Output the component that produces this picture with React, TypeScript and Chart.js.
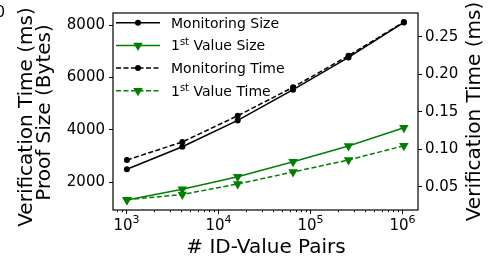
import React, { useEffect, useRef } from 'react';
import { Chart, registerables } from 'chart.js';

Chart.register(...registerables);

// ---- data ----
const pairCounts = [1024, 4096, 16384, 65536, 262144, 1048576];
const monitoringSize = [2485, 3347, 4355, 5530, 6760, 8100];
const firstValueSize = [1313, 1721, 2202, 2775, 3374, 4073];
const monitoringTime = [0.086, 0.11, 0.145, 0.183, 0.225, 0.27];
const firstValueTime = [0.033, 0.04, 0.054, 0.07, 0.086, 0.105];

const seriesLabels = ['Monitoring Size', '1st Value Size', 'Monitoring Time', '1st Value Time'];
const sizeTicks = [2000, 4000, 6000, 8000];
const timeTicks = [0.05, 0.1, 0.15, 0.2, 0.25];
const xMajorTicks = [1e3, 1e4, 1e5, 1e6];
const xTickBase = '10';
const xTickExponents = ['3', '4', '5', '6'];

const xTitle = '# ID-Value Pairs';
const leftTitle = 'Proof Size (Bytes)';
const rightTitle = 'Verification Time (ms)';

const FONT = '"DejaVu Sans", sans-serif';
const BLACK = '#000000';
const GREEN = '#008000';

type Style = { color: string; dash: number[]; marker: 'circle' | 'tri' };
const styles: Style[] = [
  { color: BLACK, dash: [], marker: 'circle' },
  { color: GREEN, dash: [], marker: 'tri' },
  { color: BLACK, dash: [5, 2.5], marker: 'circle' },
  { color: GREEN, dash: [5, 2.5], marker: 'tri' },
];

function drawMarker(ctx: CanvasRenderingContext2D, kind: string, x: number, y: number, color: string) {
  ctx.save();
  ctx.setLineDash([]);
  ctx.fillStyle = color;
  ctx.beginPath();
  if (kind === 'circle') {
    ctx.arc(x, y, 3, 0, Math.PI * 2);
  } else {
    const r = 5.5;
    ctx.moveTo(x, y + r);
    ctx.lineTo(x - r * Math.sin(Math.PI / 3), y - r / 2);
    ctx.lineTo(x + r * Math.sin(Math.PI / 3), y - r / 2);
    ctx.closePath();
  }
  ctx.fill();
  ctx.restore();
}

const overlayPlugin = {
  id: 'overlay',
  afterDraw(chart: any) {
    const ctx: CanvasRenderingContext2D = chart.ctx;
    const { left, right, top, bottom } = chart.chartArea;
    ctx.save();

    // frame
    ctx.strokeStyle = BLACK;
    ctx.lineWidth = 1.2;
    ctx.setLineDash([]);
    ctx.strokeRect(left, top, right - left, bottom - top);

    // x ticks (major / minor) and major labels with superscript exponents
    const xs = chart.scales.x;
    ctx.lineWidth = 1;
    xs.ticks.forEach((t: any) => {
      const px = Math.round(xs.getPixelForValue(t.value)) + 0.5;
      const mi = xMajorTicks.indexOf(t.value);
      ctx.beginPath();
      ctx.moveTo(px, bottom);
      ctx.lineTo(px, bottom + (mi >= 0 ? 4 : 2.2));
      ctx.stroke();
      if (mi >= 0) {
        ctx.fillStyle = BLACK;
        ctx.textAlign = 'left';
        ctx.textBaseline = 'alphabetic';
        ctx.font = `15px ${FONT}`;
        const wb = ctx.measureText(xTickBase).width;
        ctx.font = `11px ${FONT}`;
        const we = ctx.measureText(xTickExponents[mi]).width;
        const x0 = px - (wb + we) / 2;
        ctx.font = `15px ${FONT}`;
        ctx.fillText(xTickBase, x0, bottom + 20);
        ctx.font = `11px ${FONT}`;
        ctx.fillText(xTickExponents[mi], x0 + wb, bottom + 12.5);
      }
    });

    // legend
    const lx0 = left + 3;
    const lx1 = left + 47;
    const tx = left + 58;
    seriesLabels.forEach((label, i) => {
      const st = styles[i];
      const y = top + 9.7 + i * 22.7;
      ctx.strokeStyle = st.color;
      ctx.lineWidth = 1.5;
      ctx.setLineDash(st.dash);
      ctx.beginPath();
      ctx.moveTo(lx0, y);
      ctx.lineTo(lx1, y);
      ctx.stroke();
      ctx.setLineDash([]);
      drawMarker(ctx, st.marker, (lx0 + lx1) / 2, y, st.color);

      ctx.fillStyle = BLACK;
      ctx.textAlign = 'left';
      ctx.textBaseline = 'alphabetic';
      const base = y + 5;
      if (label.startsWith('1st')) {
        ctx.font = `14px ${FONT}`;
        ctx.fillText('1', tx, base);
        let x = tx + ctx.measureText('1').width;
        ctx.font = `10px ${FONT}`;
        ctx.fillText('st', x, base - 5);
        x += ctx.measureText('st').width;
        ctx.font = `14px ${FONT}`;
        ctx.fillText(label.slice(3), x, base);
      } else {
        ctx.font = `14px ${FONT}`;
        ctx.fillText(label, tx, base);
      }
    });

    // axis titles
    ctx.fillStyle = BLACK;
    ctx.font = `20px ${FONT}`;
    ctx.textBaseline = 'alphabetic';
    ctx.textAlign = 'center';
    ctx.fillText(xTitle, (left + right) / 2 + 0.5, 253);

    const rotText = (text: string, bx: number, cy: number) => {
      ctx.save();
      ctx.translate(bx, cy);
      ctx.rotate(-Math.PI / 2);
      ctx.textAlign = 'center';
      ctx.textBaseline = 'alphabetic';
      ctx.fillText(text, 0, 0);
      ctx.restore();
    };
    rotText(leftTitle, 50, (top + bottom) / 2 + 1);
    rotText(rightTitle, 480, (top + bottom) / 2);
    // neighbouring (cut-off) subplot's label
    rotText(rightTitle, 32, 117);

    ctx.font = `15px ${FONT}`;
    ctx.textAlign = 'right';
    ctx.textBaseline = 'middle';
    ctx.fillText('0', 5, 13);

    ctx.restore();
  },
};

export default function App() {
  const ref = useRef<HTMLCanvasElement | null>(null);

  useEffect(() => {
    if (!ref.current) return;
    const pts = (ys: number[]) => pairCounts.map((x, i) => ({ x, y: ys[i] }));
    const ds = (i: number, data: number[], axis: string, order: number) => ({
      label: seriesLabels[i],
      data: pts(data),
      yAxisID: axis,
      borderColor: styles[i].color,
      backgroundColor: styles[i].color,
      borderWidth: 1.5,
      borderDash: styles[i].dash,
      pointStyle: styles[i].marker === 'circle' ? 'circle' : 'triangle',
      pointRotation: styles[i].marker === 'circle' ? 0 : 180,
      pointRadius: styles[i].marker === 'circle' ? 3 : 5.5,
      pointBorderWidth: 0,
      pointBackgroundColor: styles[i].color,
      tension: 0,
      order,
    });

    const chart = new Chart(ref.current, {
      type: 'line',
      data: {
        datasets: [
          ds(0, monitoringSize, 'yL', 4),
          ds(1, firstValueSize, 'yL', 3),
          ds(2, monitoringTime, 'yR', 2),
          ds(3, firstValueTime, 'yR', 1),
        ] as any,
      },
      options: {
        animation: false,
        responsive: false,
        devicePixelRatio: 1,
        layout: { padding: { top: 13, left: 0, right: 0, bottom: 0 } },
        plugins: { legend: { display: false }, tooltip: { enabled: false } },
        scales: {
          x: {
            type: 'logarithmic',
            min: 723,
            max: 1493000,
            afterBuildTicks: (scale: any) => {
              const ticks: any[] = [];
              for (let e = 2; e <= 6; e++) {
                for (let m = 1; m <= 9; m++) {
                  const v = m * Math.pow(10, e);
                  if (v >= scale.min && v <= scale.max) ticks.push({ value: v, major: m === 1 });
                }
              }
              scale.ticks = ticks;
            },
            afterFit: (scale: any) => {
              scale.height = 47;
            },
            grid: { drawOnChartArea: false, drawTicks: true, tickLength: 4, tickColor: 'rgba(0,0,0,0)', display: true },
            border: { display: false },
            ticks: {
              autoSkip: false,
              maxRotation: 0,
              minRotation: 0,
              padding: 2,
              color: BLACK,
              font: { family: FONT, size: 15 },
              callback: () => '',
            },
          },
          yL: {
            type: 'linear',
            position: 'left',
            min: 930,
            max: 8460,
            afterBuildTicks: (scale: any) => {
              scale.ticks = sizeTicks.map((v) => ({ value: v }));
            },
            afterFit: (scale: any) => {
              scale.width = 113;
            },
            grid: { drawOnChartArea: false, drawTicks: true, tickLength: 4, tickColor: BLACK, tickWidth: 1 },
            border: { display: false },
            ticks: {
              padding: 4,
              color: BLACK,
              font: { family: FONT, size: 15 },
              callback: (v: any) => String(v),
            },
          },
          yR: {
            type: 'linear',
            position: 'right',
            min: 0.0193,
            max: 0.282,
            afterBuildTicks: (scale: any) => {
              scale.ticks = timeTicks.map((v) => ({ value: v }));
            },
            afterFit: (scale: any) => {
              scale.width = 77;
            },
            grid: { drawOnChartArea: false, drawTicks: true, tickLength: 4, tickColor: BLACK, tickWidth: 1 },
            border: { display: false },
            ticks: {
              padding: 3,
              color: BLACK,
              font: { family: FONT, size: 15 },
              callback: (v: any) => Number(v).toFixed(2),
            },
          },
        },
      } as any,
      plugins: [overlayPlugin],
    });
    return () => chart.destroy();
  }, []);

  return (
    <div style={{ position: 'fixed', left: 0, top: 0, width: 495, height: 257, background: '#fff' }}>
      <canvas ref={ref} width={495} height={257} style={{ display: 'block' }} />
    </div>
  );
}
